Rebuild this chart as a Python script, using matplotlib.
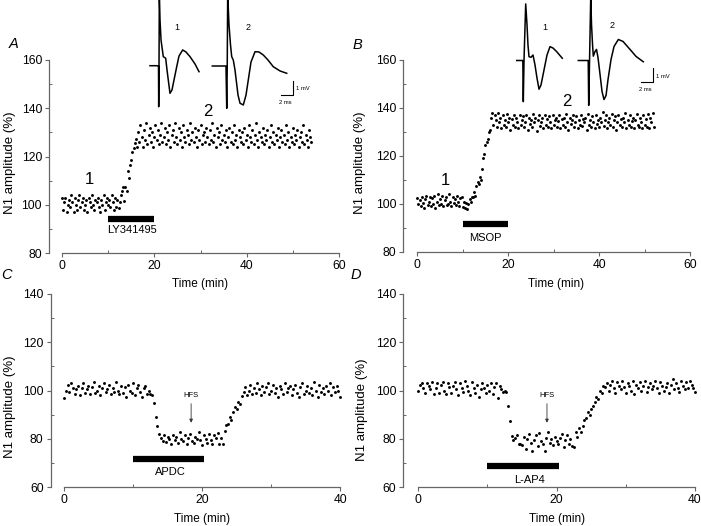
import numpy as np
import matplotlib
matplotlib.use('Agg')
import matplotlib.pyplot as plt
from matplotlib.ticker import MultipleLocator

plt.rcParams['font.family'] = ['Liberation Sans', 'DejaVu Sans']

# ---------------- data ----------------
dt = 0.25  # sampling interval (min)

A_values = [
    103, 98, 101, 103, 97, 100, 102, 99, 104, 101,
    97, 103, 100, 98, 102, 104, 99, 101, 103, 98,
    100, 102, 97, 103, 101, 99, 104, 100, 98, 102,
    101, 103, 99, 97, 102, 100, 104, 98, 101, 103,
    100, 102, 99, 104, 101, 98, 103, 99, 102, 98.5,
    101, 104, 105.5, 107.5, 101.5, 107.5, 105.5, 113.8, 111, 116.6,
    118.6, 121.7, 123.5, 125.5, 127.2,
    124, 130, 126, 133, 128, 124, 131, 127, 134, 125,
    129, 132, 126, 130, 124, 128, 133, 127, 131, 125,
    129, 134, 126, 128, 132, 125, 130, 127, 133, 124,
    129, 131, 126, 134, 128, 125, 132, 127, 130, 124,
    133, 128, 126, 131, 129, 125, 134, 127, 130, 126,
    132, 128, 124, 131, 127, 133, 125, 129, 130, 126,
    132, 128, 125, 131, 127, 134, 126, 129, 124, 132,
    128, 130, 125, 133, 127, 129, 126, 131, 124, 128,
    132, 126, 130, 125, 133, 127, 129, 124, 131, 128,
    126, 130, 125, 132, 127, 129, 124, 133, 128, 126,
    131, 125, 129, 134, 127, 124, 130, 128, 126, 132,
    125, 129, 127, 131, 124, 128, 133, 126, 130, 125,
    129, 127, 132, 124, 128, 131, 126, 129, 125, 133,
    127, 130, 124, 128, 126, 132, 125, 129, 127, 131,
    124, 128, 130, 126, 133, 125, 129, 127, 124, 131,
    128, 126,
]

B_values = [
    102.5, 100, 101.5, 99, 103, 100.5, 98.5, 102, 103.5, 99.5,
    101, 103, 99, 102.5, 100, 103.5, 98.5, 101, 104, 99.5,
    102, 100, 103.5, 99, 101.5, 103, 99.5, 100, 104, 101,
    99, 103, 100.5, 102, 99.5, 103.5, 101, 99, 102.5, 103,
    98.6,
    101, 98.2, 100.5, 97.8, 100, 102, 101, 103, 102.8, 104.9,
    103.5, 107.4, 109, 108.3, 111.1, 110, 114.6, 119, 120.8, 124.6,
    126, 127, 129.9, 131,
    136, 138, 133, 137, 135, 132, 138, 134, 136, 131.5,
    137, 133, 135, 132, 137.5, 134, 136, 131, 135.5, 133,
    137, 132, 136, 134, 131.5, 137, 133, 135, 136.5, 132,
    134, 137, 131, 136, 133.5, 135, 132, 137.5, 134, 136,
    130.5, 135, 137, 132.5, 134, 136, 131.5, 137, 133, 135.5,
    132, 136.5, 134, 131.5, 137, 133, 135, 136, 132, 134.5,
    137, 131.5, 135.5, 133, 136, 132, 137.5, 134, 131, 136,
    133.5, 135, 137, 132, 134, 136.5, 131.5, 135, 133, 137,
    132.5, 135.5, 134, 136, 131, 137.5, 133, 135, 132, 136.5,
    134, 131.5, 137, 133.5, 135, 132, 136, 134, 138.5, 132.5,
    135, 137, 131.5, 134, 136, 133, 137.5, 132, 135, 136.5,
    131, 134, 137, 133, 135.5, 132, 136, 134, 138, 131.5,
    135, 133, 137, 132, 134.5, 136, 131.5, 135, 137.5, 133,
    132, 136, 134, 131.5, 137, 133, 135.5, 132, 137.5, 131.5,
    136, 134, 138, 132,
]

C_values = [
    97, 100, 102.5, 99.5, 103, 101, 98.5, 100.5, 102, 98,
    101, 103, 99, 100.5, 102, 98.5, 101.5, 103.5, 99, 100,
    102, 98, 101, 103, 99.5, 100.5, 102.5, 98.5, 101, 99.5,
    103.5, 100, 98.5, 102, 99, 101.5, 97.5, 102.5, 100, 99,
    103, 98, 101, 102.5, 99.5, 97.5, 101, 102, 98.5, 100,
    98.5,
    98, 94.7, 89.2, 85.5, 82, 80.5, 79.3, 81.5,
    78.6, 81, 80, 77.8, 81.5, 79.5, 80.8, 78.5, 83, 80,
    79, 81.5, 77.8, 80.5, 82, 79, 78.2, 81, 80, 83,
    79.5, 77.5, 81.5, 80, 78.5, 82, 79.5, 78, 81.5, 80.5,
    82.5, 78,
    80.6, 77.8, 83.4, 85.9, 86.2, 88.9, 88, 91, 93.1, 92.4,
    95.1, 94.5, 97.9, 99.5, 101.4, 98,
    100, 102.5, 98.5, 101, 99, 103, 100.5, 98, 102, 99.5,
    101.5, 103, 98.5, 100, 102.5, 99, 101, 97.5, 102, 100.5,
    98.5, 103, 99.5, 101, 102, 98, 100.5, 102.5, 99, 97.5,
    101.5, 103, 98.5, 100, 102, 99, 101, 98, 103.5, 100,
    97.5, 102.5, 99.5, 101, 98.5, 102, 100, 103, 98, 101.5,
    99.5, 102, 100, 97.5,
]

D_values = [
    100, 102.5, 103, 101, 99, 103, 102, 100.5, 103.5, 98.5,
    101, 103, 99, 102.5, 103.5, 100, 98.5, 103, 101.5, 99,
    102, 103.5, 100.5, 98, 103, 101, 99.5, 104, 102, 100,
    98, 103.5, 101, 99, 102.5, 97.5, 100.5, 103, 101, 99,
    102.5, 100, 103, 98.5, 101.5, 103, 97, 102, 100.5, 99.5,
    100,
    99.5, 93.8, 87.6, 81.3, 79.5, 80.5, 81.5, 78,
    78, 77.5, 81, 76, 80, 82, 78.5, 75.1, 79.5, 81.5,
    77, 82.5, 79, 78, 75, 80.5, 82.8, 78.5, 80, 77.5,
    81, 79, 78, 80.5, 82, 76.5, 79.5, 81.5, 78, 80,
    77, 76.5, 82.7,
    81, 84.4, 83, 85.5, 87.8, 88.5, 91, 90, 92.5, 93.8,
    95.1, 97.2, 96.5, 100, 99, 102, 101.5,
    103, 100, 102.5, 104, 101, 99, 103.5, 102, 100.5, 104,
    101.5, 99, 103, 102, 100, 104, 98.5, 102.5, 101, 103.5,
    100, 102, 104, 99.5, 101.5, 103, 100.5, 102, 104, 101,
    99, 103.5, 102, 100, 101.5, 103, 99, 102.5, 105, 100.5,
    103, 101, 99.5, 104, 102, 100.5, 103.5, 101, 104, 102.5,
    101, 99.5,
]

# drug application bars (start, end, level) and labels
drug_names = ['LY341495', 'MSOP', 'APDC', 'L-AP4']
drug_start = [10, 10, 10, 10]
drug_end = [20, 20, 20.3, 20.3]
drug_level = [94.2, 91.8, 71.8, 69.0]
drug_label_y = [89.4, 86.0, 66.5, 63.0]
drug_label_x = [15.1, 15.0, 15.4, 16.1]

# HFS arrows (C, D)
hfs_time = [18.4, 18.6]

# inset field potential traces (time in ms, amplitude in mV)
A_tr1_ms = [0, 1.06, 1.35, 1.38, 1.43, 1.48, 1.59, 1.75, 2.11, 2.49, 2.70, 3.17,
            3.49, 3.81, 4.24, 4.60, 5.19, 5.71, 6.35, 7.14, 7.78]
A_tr1_mV = [0.02, 0.02, 0, -2.79, 0, 4.86, 3.15, 1.78, 0.64, 0.53, -0.27, -1.87,
            -1.64, -0.96, -0.05, 0.68, 1.10, 0.96, 0.64, 0.14, -0.39]
A_tr2_ms = [0, 1.75, 2.17, 2.29, 2.37, 2.44, 2.65, 2.89, 3.08, 3.33, 3.6, 4.08,
            4.40, 4.92, 5.35, 5.71, 6.14, 6.78, 7.41, 8.1, 8.84, 9.68, 10.75, 11.81]
A_tr2_mV = [0, 0, 0, -2.90, 0, 4.97, 2.81, 1.44, 0.64, 0.41, -0.27, -1.99,
            -2.55, -2.67, -1.99, -0.96, 0.27, 0.98, 0.96, 0.75, 0.41, -0.05, -0.34, -0.50]
B_tr1_ms = [0, 0.83, 1.02, 1.1, 1.22, 1.5, 1.72, 1.88, 2.05, 2.38, 2.72, 3.05,
            3.38, 3.72, 4.05, 4.55, 5.05, 5.55, 6.05, 6.67, 7.6]
B_tr1_mV = [0, 0, 0, -2.94, 0.04, 4.04, 2.54, 1.11, 0.27, 0.23, 0.39, -0.32,
            -1.25, -2.05, -1.75, -0.68, 0.39, 0.99, 0.89, 0.63, 0.16]
B_tr2_ms = [0, 1.4, 1.65, 1.73, 1.87, 2.07, 2.2, 2.37, 2.5, 2.78, 3.03, 3.28,
            3.62, 3.95, 4.28, 4.62, 4.95, 5.45, 5.95, 6.67, 7.45, 8.62, 9.62, 10.83]
B_tr2_mV = [0, 0, 0, -3.21, 0, 4.57, 2.57, 1.14, 0.31, 0.64, 0.79, 0.21,
            -1.0, -2.21, -2.79, -2.5, -1.36, 0.07, 1.0, 1.5, 1.36, 0.79, 0.29, -0.09]

# ---------------- figure ----------------
W, H = 701, 526
fig = plt.figure(figsize=(W / 100, H / 100), dpi=100)
SP = '#666666'


def px_axes(x0, y0, x1, y1):
    return fig.add_axes([x0 / W, 1 - y1 / H, (x1 - x0) / W, (y1 - y0) / H])


def panel(box, xmax, ylims, values, idx):
    spine_px, x0_px, xmax_px, ybot_px, ytop_px = box
    ymin, ymax = ylims
    xmin = (spine_px - x0_px) / (xmax_px - x0_px) * xmax
    ax = px_axes(spine_px, ytop_px, xmax_px, ybot_px)
    ax.set_xlim(xmin, xmax)
    ax.set_ylim(ymin, ymax)
    t = np.arange(len(values)) * dt
    ax.plot(t, values, 'o', ms=2.1, mew=0, color='black', clip_on=False)
    for s in ['top', 'right']:
        ax.spines[s].set_visible(False)
    for s in ['left', 'bottom']:
        ax.spines[s].set_color(SP)
        ax.spines[s].set_linewidth(0.9)
    ax.spines['bottom'].set_bounds(0, xmax)
    ax.spines['left'].set_bounds(ymin, ymax)
    ax.xaxis.set_major_locator(MultipleLocator(20))
    ax.xaxis.set_minor_locator(MultipleLocator(10))
    ax.yaxis.set_major_locator(MultipleLocator(20))
    ax.yaxis.set_minor_locator(MultipleLocator(10))
    ax.tick_params(which='major', direction='out', length=3, width=0.8,
                   color=SP, labelsize=8.7, pad=2)
    ax.tick_params(which='minor', direction='in', length=2, width=0.7, color=SP)
    ax.patch.set_alpha(0)
    # drug bar
    ax.plot([drug_start[idx], drug_end[idx]], [drug_level[idx]] * 2,
            color='black', lw=4.5, solid_capstyle='butt')
    ax.text(drug_label_x[idx], drug_label_y[idx], drug_names[idx],
            ha='center', va='center', fontsize=8)
    return ax


axA = panel((49, 62, 339, 253, 60), 60, (80, 160), A_values, 0)
axB = panel((403.3, 417.3, 690, 252, 60), 60, (80, 160), B_values, 1)
axC = panel((50.5, 64.3, 340, 487.3, 294), 40, (60, 140), C_values, 2)
axD = panel((403.3, 418.3, 695, 487.3, 294), 40, (60, 140), D_values, 3)

# labels 1 / 2 on A and B
axA.text(5.9, 110.4, '1', fontsize=12, ha='center', va='center')
axA.text(31.5, 138.5, '2', fontsize=12, ha='center', va='center')
axB.text(6.1, 109.6, '1', fontsize=12, ha='center', va='center')
axB.text(33.0, 142.9, '2', fontsize=12, ha='center', va='center')

# HFS arrows
for ax, ht in zip([axC, axD], hfs_time):
    ax.annotate('', xy=(ht, 86.7), xytext=(ht, 94.6),
                arrowprops=dict(arrowstyle='-|>', lw=0.6, color='#333333',
                                mutation_scale=5, shrinkA=0, shrinkB=0))
    ax.text(ht, 97.8, 'HFS', fontsize=5.5, ha='center', va='center')

# axis labels
ylab = dict(rotation=90, ha='center', va='center', fontsize=9.5)
fig.text(10.5 / W, 1 - 163 / H, 'N1 amplitude (%)', **ylab)
fig.text(360.5 / W, 1 - 163 / H, 'N1 amplitude (%)', **ylab)
fig.text(10 / W, 1 - 407 / H, 'N1 amplitude (%)', **ylab)
fig.text(362 / W, 1 - 410 / H, 'N1 amplitude (%)', **ylab)
xlab = dict(ha='center', va='center', fontsize=8.5)
fig.text(200 / W, 1 - 284 / H, 'Time (min)', **xlab)
fig.text(556 / W, 1 - 284 / H, 'Time (min)', **xlab)
fig.text(202 / W, 1 - 519 / H, 'Time (min)', **xlab)
fig.text(557 / W, 1 - 519 / H, 'Time (min)', **xlab)

# panel letters
plab = dict(ha='center', va='center', fontsize=10.5, style='italic')
fig.text(14 / W, 1 - 44 / H, 'A', **plab)
fig.text(357 / W, 1 - 45 / H, 'B', **plab)
fig.text(6 / W, 1 - 275 / H, 'C', **plab)
fig.text(356 / W, 1 - 275 / H, 'D', **plab)


# inset traces
def trace_inset(box, ppms, ppmv, base_py, start_px, traces, offsets, nums,
                num_pos, sb_px, sb_txt):
    x0, y0, x1, y1 = box
    ax = px_axes(x0, y0, x1, y1)
    ax.set_xlim((x0 - start_px) / ppms, (x1 - start_px) / ppms)
    ax.set_ylim((base_py - y1) / ppmv, (base_py - y0) / ppmv)
    ax.axis('off')
    ax.patch.set_alpha(0)
    for (ms, mv), off in zip(traces, offsets):
        ax.plot(np.array(ms) + off, mv, color='black', lw=1.1,
                solid_joinstyle='round', clip_on=False)
    for n, (px, py) in zip(nums, num_pos):
        ax.text((px - start_px) / ppms, (base_py - py) / ppmv, n,
                fontsize=6.5, ha='center', va='center')
    # scale bar: 2 ms x 1 mV
    sx, sy = sb_px
    bx = (sx - start_px) / ppms
    by = (base_py - sy) / ppmv
    ax.plot([bx - 2, bx, bx], [by, by, by + 1], color='black', lw=0.8)
    (mvx, mvy), (msx, msy) = sb_txt
    ax.text((mvx - start_px) / ppms, (base_py - mvy) / ppmv, '1 mV',
            fontsize=4.2, ha='left', va='center')
    ax.text((msx - start_px) / ppms, (base_py - msy) / ppmv, '2 ms',
            fontsize=4.2, ha='center', va='center')


trace_inset((140, 0, 310, 115), 6.3, 14.6, 66, 150,
            [(A_tr1_ms, A_tr1_mV), (A_tr2_ms, A_tr2_mV)], [0, 9.89],
            ['1', '2'], [(177, 27), (248, 27)], (293.3, 95.3),
            ((296, 89), (285, 103)))
trace_inset((505, 0, 680, 115), 6.0, 14.0, 60.5, 516.7,
            [(B_tr1_ms, B_tr1_mV), (B_tr2_ms, B_tr2_mV)], [0, 10.27],
            ['1', '2'], [(545, 28), (611.7, 25)], (653, 82),
            ((656, 76.5), (645, 89.5)))

fig.savefig('out.png', dpi=100)
